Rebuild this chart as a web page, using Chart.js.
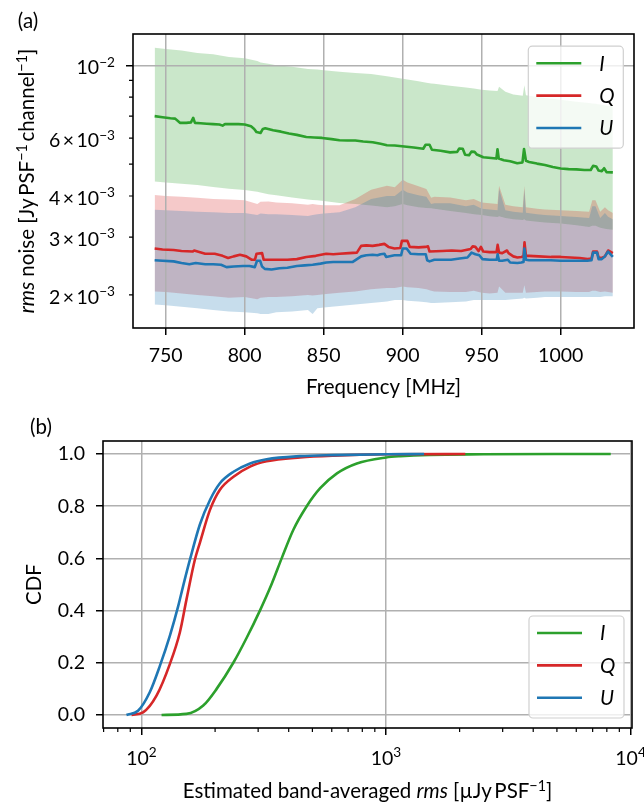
<!DOCTYPE html>
<html lang="en">
<head>
<meta charset="UTF-8">
<title>rms noise per channel and band-averaged CDF</title>
<style>
  body { margin: 0; background: #fff; overflow: hidden; }
  .panel { position: absolute; left: 0; width: 644px; }
  #panelA { top: 0; height: 400px; }
  #panelB { top: 400px; height: 407px; }
</style>
<script src="https://cdn.jsdelivr.net/npm/chart.js@4.4.0/dist/chart.umd.min.js"></script>
</head>
<body>
<div class="panel" id="panelA"><canvas id="noiseChart" width="644" height="400"></canvas></div>
<div class="panel" id="panelB"><canvas id="cdfChart" width="644" height="407"></canvas></div>
<script>
const FONT = 'Lato, "DejaVu Sans", sans-serif';
const FS = 19.5;      // tick labels
const FS_T = 20.5;    // axis titles, legend, panel letters
const GRID = '#b0b0b0';
const GREEN = '#2ca02c', RED = '#d62728', BLUE = '#1f77b4';

// ---- (a) median rms noise per channel [Jy/PSF/channel]
const freqI = [743, 748, 753, 756, 759, 763, 766, 767.4, 768.5, 772, 776, 780, 784, 786, 787.5, 792, 796, 800, 804, 806,
  807.5, 810, 811.5, 813, 818, 823, 828, 833, 839, 844, 849, 855, 860, 865, 870, 875, 881, 886, 890, 895,
  901, 907, 913, 914.5, 917, 918.5, 924, 930, 934.5, 935.8, 938, 939.5, 942, 943.5, 945.5, 947, 951, 956, 959.3, 960,
  960.8, 964, 968, 972.5, 975.8, 976.8, 978, 980, 985, 990, 995, 1000, 1005, 1010, 1015, 1019, 1020.5, 1022.5, 1024, 1026,
  1027.5, 1029, 1033];
const noiseI = [0.00700, 0.00695, 0.00690, 0.00688, 0.00668, 0.00668, 0.00670, 0.00692, 0.00668, 0.00666, 0.00664, 0.00662, 0.00660, 0.00655, 0.00662, 0.00662, 0.00662, 0.00660, 0.00652, 0.00640,
  0.00626, 0.00622, 0.00640, 0.00643, 0.00634, 0.00628, 0.00620, 0.00614, 0.00605, 0.00603, 0.00601, 0.00596, 0.00591, 0.00590, 0.00590, 0.00586, 0.00583, 0.00577, 0.00571, 0.00570,
  0.00566, 0.00562, 0.00557, 0.00573, 0.00573, 0.00553, 0.00549, 0.00543, 0.00545, 0.00558, 0.00557, 0.00534, 0.00532, 0.00546, 0.00545, 0.00535, 0.00525, 0.00522, 0.00520, 0.00555,
  0.00520, 0.00514, 0.00510, 0.00503, 0.00506, 0.00556, 0.00512, 0.00508, 0.00502, 0.00497, 0.00490, 0.00485, 0.00483, 0.00482, 0.00480, 0.00480, 0.00494, 0.00492, 0.00478, 0.00476,
  0.00486, 0.00473, 0.00472];

const freqQ = [743, 748, 755, 760, 767, 768, 775, 781, 786, 789.5, 793, 797, 801, 804.3, 806.5, 807.5, 811, 812, 817, 822,
  827, 833, 839, 845, 851.6, 856, 860, 866, 871, 873.7, 877, 881, 885, 888.4, 891, 894.8, 898.5, 899.5, 903, 904.5,
  910, 914.5, 916, 917, 925, 931, 937, 943, 944.3, 946, 948, 949.5, 951, 955, 959.4, 960.1, 961, 963, 966, 967,
  970, 972.6, 975, 976.5, 977.1, 978, 980, 986, 994, 1000, 1006, 1012, 1017, 1019.5, 1020.5, 1023, 1024, 1026, 1028, 1030,
  1033];
const noiseQ = [0.00277, 0.00275, 0.00274, 0.00272, 0.00271, 0.00273, 0.00267, 0.00267, 0.00263, 0.00259, 0.00262, 0.00265, 0.00262, 0.00256, 0.00256, 0.00267, 0.00268, 0.00256, 0.00256, 0.00256,
  0.00256, 0.00257, 0.00261, 0.00263, 0.00267, 0.00266, 0.00267, 0.00268, 0.00269, 0.00282, 0.00283, 0.00282, 0.00284, 0.00286, 0.00280, 0.00277, 0.00278, 0.00292, 0.00292, 0.00280,
  0.00279, 0.00280, 0.00281, 0.00271, 0.00272, 0.00273, 0.00272, 0.00276, 0.00281, 0.00280, 0.00272, 0.00280, 0.00271, 0.00270, 0.00270, 0.00284, 0.00269, 0.00268, 0.00273, 0.00268,
  0.00262, 0.00260, 0.00261, 0.00262, 0.00289, 0.00263, 0.00263, 0.00262, 0.00261, 0.00261, 0.00260, 0.00259, 0.00257, 0.00258, 0.00271, 0.00271, 0.00260, 0.00259, 0.00262, 0.00273,
  0.00268];

const freqU = [743, 748, 755, 760, 765, 769, 775, 780, 785, 788.5, 793, 799, 803, 806.4, 807.8, 809.8, 811, 812.7, 817, 822,
  827, 833, 838, 843, 848, 851.6, 856, 860, 864, 868.4, 873.7, 877, 881, 884, 886, 888.4, 889.5, 894.8, 899, 900,
  902.5, 905, 910, 914.6, 915.5, 917, 920, 925, 930.6, 936, 941, 943.6, 946, 948.5, 950.5, 955, 959.5, 960.1, 961, 963,
  966.6, 968, 972.6, 975, 976.5, 977, 978, 980, 986, 993.7, 1000, 1006.3, 1012, 1016.8, 1019.5, 1020.5, 1023, 1024, 1026, 1028,
  1030, 1033];
const noiseU = [0.00255, 0.00254, 0.00253, 0.00250, 0.00248, 0.00250, 0.00248, 0.00248, 0.00247, 0.00243, 0.00244, 0.00245, 0.00245, 0.00243, 0.00254, 0.00254, 0.00244, 0.00240, 0.00239, 0.00241,
  0.00242, 0.00245, 0.00246, 0.00247, 0.00249, 0.00251, 0.00252, 0.00252, 0.00252, 0.00252, 0.00262, 0.00264, 0.00265, 0.00264, 0.00266, 0.00267, 0.00261, 0.00264, 0.00264, 0.00277,
  0.00277, 0.00267, 0.00266, 0.00266, 0.00255, 0.00253, 0.00256, 0.00256, 0.00256, 0.00258, 0.00260, 0.00269, 0.00266, 0.00264, 0.00257, 0.00256, 0.00256, 0.00266, 0.00254, 0.00254,
  0.00256, 0.00251, 0.00250, 0.00251, 0.00252, 0.00277, 0.00256, 0.00255, 0.00255, 0.00255, 0.00254, 0.00254, 0.00254, 0.00254, 0.00255, 0.00269, 0.00269, 0.00257, 0.00257, 0.00262,
  0.00271, 0.00261];

// ---- (a) spread around the median (shaded bands)
const bandFreq = [743, 750, 760, 770, 780, 790, 800, 808, 810, 815,
  820, 830, 840, 843, 846, 850, 860, 870, 880, 890,
  895, 900, 903, 910, 915, 918, 920, 930, 940, 945,
  950, 955, 960, 961, 965, 970, 976, 977, 978, 985,
  990, 1000, 1010, 1018, 1020, 1022, 1025, 1028, 1030, 1033];
const bandIhi = [0.0113, 0.0112, 0.0111, 0.0109, 0.0108, 0.0106, 0.0105, 0.0103, 0.0102, 0.0101,
  0.0100, 0.0099, 0.00975, 0.00972, 0.0097, 0.00966, 0.00955, 0.00948, 0.0094, 0.00926,
  0.00918, 0.0091, 0.00905, 0.00894, 0.00885, 0.0088, 0.00878, 0.00867, 0.00855, 0.0085,
  0.00843, 0.00838, 0.00835, 0.0086, 0.0083, 0.00815, 0.00808, 0.0087, 0.0081, 0.008,
  0.00795, 0.00785, 0.00775, 0.00768, 0.00765, 0.00763, 0.0076, 0.00755, 0.00752, 0.0075];
const bandIlo = [0.00443, 0.0044, 0.00436, 0.00432, 0.00426, 0.00421, 0.00417, 0.00412, 0.0041, 0.00405,
  0.00402, 0.00396, 0.0039, 0.00389, 0.00388, 0.00386, 0.00381, 0.00378, 0.00374, 0.0037,
  0.00372, 0.00378, 0.00375, 0.0037, 0.00368, 0.00367, 0.00366, 0.0036, 0.00355, 0.00352,
  0.0035, 0.00347, 0.00345, 0.00347, 0.00343, 0.0034, 0.00338, 0.0034, 0.00337, 0.00334,
  0.00332, 0.0033, 0.00326, 0.00322, 0.00325, 0.00325, 0.0032, 0.00318, 0.00317, 0.00316];
const bandQhi = [0.00403, 0.004, 0.00398, 0.00395, 0.00392, 0.0039, 0.00388, 0.00378, 0.00384, 0.00385,
  0.00382, 0.0038, 0.00376, 0.00378, 0.00376, 0.00375, 0.00375, 0.00392, 0.00418, 0.0043,
  0.00425, 0.00448, 0.0044, 0.00428, 0.0042, 0.00395, 0.00398, 0.00396, 0.00388, 0.00392,
  0.00382, 0.0038, 0.00378, 0.0043, 0.00376, 0.00372, 0.0037, 0.0043, 0.0037, 0.00366,
  0.00364, 0.00362, 0.0036, 0.00358, 0.00388, 0.00388, 0.00358, 0.0037, 0.00362, 0.00355];
const bandQlo = [0.00205, 0.00204, 0.00202, 0.002, 0.00198, 0.00196, 0.00197, 0.00194, 0.00196, 0.00197,
  0.00197, 0.00198, 0.002, 0.00199, 0.002, 0.00201, 0.00203, 0.00205, 0.00208, 0.0021,
  0.0021, 0.00212, 0.00211, 0.0021, 0.00208, 0.00206, 0.00205, 0.00204, 0.00204, 0.00206,
  0.00203, 0.00202, 0.00203, 0.00212, 0.00203, 0.00203, 0.00203, 0.00214, 0.00203, 0.00204,
  0.00205, 0.00205, 0.00204, 0.00204, 0.00206, 0.00206, 0.00204, 0.00205, 0.00204, 0.00203];
const bandUhi = [0.00363, 0.00362, 0.0036, 0.00358, 0.00357, 0.00355, 0.00355, 0.0035, 0.00354, 0.00352,
  0.00352, 0.0035, 0.00348, 0.0035, 0.00352, 0.00354, 0.00357, 0.0037, 0.00392, 0.004,
  0.004, 0.00418, 0.0041, 0.00402, 0.00398, 0.00378, 0.0038, 0.0038, 0.00372, 0.00376,
  0.00366, 0.00364, 0.00362, 0.0042, 0.00362, 0.00358, 0.00356, 0.0042, 0.00356, 0.00352,
  0.0035, 0.00348, 0.00345, 0.00343, 0.00372, 0.00372, 0.00343, 0.00355, 0.00346, 0.0034];
const bandUlo = [0.00187, 0.00186, 0.00184, 0.00182, 0.0018, 0.00178, 0.00177, 0.00176, 0.00175, 0.00175,
  0.00177, 0.00178, 0.0018, 0.00175, 0.00182, 0.00183, 0.00185, 0.00187, 0.00189, 0.00191,
  0.00193, 0.00193, 0.00192, 0.00191, 0.0019, 0.00189, 0.00189, 0.0019, 0.00191, 0.00193,
  0.00193, 0.00193, 0.00193, 0.00193, 0.00193, 0.00194, 0.00195, 0.00196, 0.00195, 0.00196,
  0.00197, 0.00197, 0.00197, 0.00197, 0.00197, 0.00197, 0.00197, 0.00198, 0.00198, 0.00198];

// ---- (b) cumulative distribution of band-averaged rms [uJy/PSF]
const cdfRmsI = [120.8, 152.8, 178.9, 202.6, 237.8, 269, 305, 340, 375, 418, 474, 538, 630, 760, 1000, 1145, 1500, 2500, 5000, 8300];
const cdfI = [0, 0.004, 0.036, 0.099, 0.201, 0.295, 0.40, 0.50, 0.602, 0.71, 0.80, 0.869, 0.926, 0.964, 0.987, 0.992, 0.997, 0.999, 1.0, 1.0];
const cdfRmsQ = [91, 101.5, 115.2, 130.6, 143.5, 152.8, 165.3, 173.3, 190.6, 209.3, 237.8, 278, 325, 445, 610, 1000, 2110];
const cdfQ = [0, 0.01, 0.074, 0.195, 0.316, 0.443, 0.595, 0.66, 0.786, 0.863, 0.913, 0.952, 0.972, 0.987, 0.994, 0.999, 1.0];
const cdfRmsU = [86.8, 96.8, 108.1, 118.9, 130.6, 141.3, 148, 157.8, 173.3, 190.6, 209.3, 237.8, 278, 325, 445, 610, 1000, 1432];
const cdfU = [0, 0.016, 0.087, 0.188, 0.303, 0.417, 0.494, 0.595, 0.73, 0.824, 0.888, 0.932, 0.964, 0.98, 0.992, 0.996, 0.999, 1.0];

// ---- ticks
const freqTicks = [750, 800, 850, 900, 950, 1000];
const noiseMinor = [0.002, 0.003, 0.004, 0.005, 0.006, 0.007, 0.008, 0.009];
const noiseLabelled = [0.002, 0.003, 0.004, 0.006];
const cdfTicks = [0, 0.2, 0.4, 0.6, 0.8, 1.0];
const rmsMajor = [100, 1000, 10000];
const rmsMinor = [70, 80, 90, 200, 300, 400, 500, 600, 700, 800, 900, 2000, 3000, 4000, 5000, 6000, 7000, 8000, 9000];

const pts = (xs, ys) => xs.map((x, i) => ({ x, y: ys[i] }));

function fontFor(style, size) {
  const s = style === 's' ? size * 0.7 : size;
  return (style === 'i' ? 'italic ' : '') + s + 'px ' + FONT;
}

// text made of [string, style] runs: '' plain, 'i' italic, 's' superscript
function drawRich(ctx, parts, x, y, align, size) {
  let w = 0;
  for (const [t, st] of parts) { ctx.font = fontFor(st, size); w += ctx.measureText(t).width; }
  let cx = align === 'center' ? x - w / 2 : align === 'right' ? x - w : x;
  ctx.textAlign = 'left';
  ctx.textBaseline = 'alphabetic';
  for (const [t, st] of parts) {
    ctx.font = fontFor(st, size);
    ctx.fillText(t, cx, st === 's' ? y - 0.38 * size : y);
    cx += ctx.measureText(t).width;
  }
}

function drawLegend(ctx, chart, a, pos) {
  const w = 95, h = 102;
  const x0 = a.right - pos.right - w;
  const y0 = pos.top != null ? a.top + pos.top : a.bottom - pos.bottom - h;
  ctx.beginPath();
  ctx.roundRect(x0, y0, w, h, 4);
  ctx.fillStyle = 'rgba(255,255,255,0.8)';
  ctx.fill();
  ctx.strokeStyle = '#d0d0d0';
  ctx.lineWidth = 1.2;
  ctx.stroke();
  chart.data.datasets.filter(d => d.inLegend).forEach((d, i) => {
    const y = y0 + 17 + i * 32.4;
    ctx.strokeStyle = d.borderColor;
    ctx.lineWidth = 2.6;
    ctx.beginPath();
    ctx.moveTo(x0 + 8, y);
    ctx.lineTo(x0 + 53, y);
    ctx.stroke();
    ctx.fillStyle = '#000';
    drawRich(ctx, [[d.label, 'i']], x0 + 71, y + 0.36 * FS_T, 'left', FS_T);
  });
}

// frame, minor ticks, exponent labels, axis titles, panel letter and legend
function makeDecor(cfg) {
  return {
    id: 'decor',
    afterDraw(chart) {
      const { ctx, chartArea: a, scales } = chart;
      ctx.save();
      ctx.strokeStyle = '#000';
      ctx.fillStyle = '#000';
      ctx.lineWidth = 1.2;
      ctx.beginPath();
      (cfg.minorX || []).forEach(v => {
        const p = scales.x.getPixelForValue(v);
        if (p < a.left || p > a.right) return;
        ctx.moveTo(p, a.bottom); ctx.lineTo(p, a.bottom + 4);
      });
      (cfg.minorY || []).forEach(v => {
        const p = scales.y.getPixelForValue(v);
        if (p < a.top || p > a.bottom) return;
        ctx.moveTo(a.left, p); ctx.lineTo(a.left - 4, p);
      });
      ctx.stroke();

      (cfg.xLabels || []).forEach(([v, parts]) =>
        drawRich(ctx, parts, scales.x.getPixelForValue(v), a.bottom + cfg.xLabelDy, 'center', FS));
      (cfg.yLabels || []).forEach(([v, parts]) =>
        drawRich(ctx, parts, a.left - cfg.yLabelDx, scales.y.getPixelForValue(v) + cfg.yLabelDy, 'right', FS));

      ctx.lineWidth = 1.6;
      ctx.strokeRect(a.left, a.top, a.right - a.left, a.bottom - a.top);

      const cap = 0.36 * FS_T;
      drawRich(ctx, cfg.xTitle, (a.left + a.right) / 2, cfg.xTitleY + cap, 'center', FS_T);
      ctx.save();
      ctx.translate(cfg.yTitleX + cap, (a.top + a.bottom) / 2);
      ctx.rotate(-Math.PI / 2);
      drawRich(ctx, cfg.yTitle, 0, 0, 'center', FS_T);
      ctx.restore();

      drawRich(ctx, [[cfg.panel, '']], cfg.panelX, cfg.panelBase, 'center', FS_T);
      drawLegend(ctx, chart, a, cfg.legend);
      ctx.restore();
    }
  };
}

Chart.defaults.font.family = FONT;
Chart.defaults.font.size = FS;
Chart.defaults.color = '#000';

const gridOpts = { color: GRID, lineWidth: 1.5, tickColor: '#000', tickWidth: 1.5, tickLength: 7 };
const common = {
  responsive: false,
  animation: false,
  events: [],
  elements: { point: { radius: 0 }, line: { borderWidth: 2.6, borderJoinStyle: 'round' } },
};

const bandEdge = (ys, fill, colour, order) => ({
  data: pts(bandFreq, ys), fill, backgroundColor: colour,
  borderColor: 'rgba(0,0,0,0)', borderWidth: 1, order
});
const noiseLine = (label, xs, ys, colour, order) => ({
  label, inLegend: true, data: pts(xs, ys), borderColor: colour, fill: false, order
});

new Chart(document.getElementById('noiseChart'), {
  type: 'line',
  data: {
    datasets: [
      noiseLine('I', freqI, noiseI, GREEN, 2),
      noiseLine('Q', freqQ, noiseQ, RED, 1),
      noiseLine('U', freqU, noiseU, BLUE, 0),
      bandEdge(bandIlo, false, 'transparent', 30),
      bandEdge(bandIhi, '-1', 'rgba(44,160,44,0.25)', 30),
      bandEdge(bandQlo, false, 'transparent', 20),
      bandEdge(bandQhi, '-1', 'rgba(214,39,40,0.25)', 20),
      bandEdge(bandUlo, false, 'transparent', 10),
      bandEdge(bandUhi, '-1', 'rgba(31,119,180,0.25)', 10)
    ]
  },
  options: {
    ...common,
    layout: { padding: { top: 34, right: 10, left: 0, bottom: 0 } },
    plugins: { legend: { display: false }, tooltip: { enabled: false }, filler: { drawTime: 'beforeDraw' } },
    scales: {
      x: {
        type: 'linear', min: 729.3, max: 1046.4,
        afterBuildTicks: s => { s.ticks = freqTicks.map(value => ({ value })); },
        afterFit: s => { s.height = 72; },
        grid: gridOpts, border: { display: false },
        ticks: { padding: 9, maxRotation: 0, autoSkip: false, callback: v => String(v) }
      },
      y: {
        type: 'logarithmic', min: 1.586e-3, max: 1.245e-2,
        afterBuildTicks: s => { s.ticks = [{ value: 0.01 }]; },
        afterFit: s => { s.width = 133; },
        grid: gridOpts, border: { display: false },
        ticks: { callback: () => '' }
      }
    }
  },
  plugins: [makeDecor({
    panel: '(a)', panelX: 28, panelBase: 28,
    minorY: noiseMinor,
    yLabels: [[0.01, [['10', ''], ['\u22122', 's']]]].concat(
      noiseLabelled.map(v => [v, [[String(Math.round(v * 1000)) + '\u2009\u00d7\u200910', ''], ['\u22123', 's']]])),
    yLabelDx: 18, yLabelDy: 8.8,
    xTitle: [['Frequency [MHz]', '']], xTitleY: 386.3,
    yTitle: [['rms', 'i'], [' noise [Jy\u2009PSF', ''], ['\u22121', 's'], ['\u2009channel', ''], ['\u22121', 's'], [']', '']],
    yTitleX: 27,
    legend: { right: 10.7, top: 12.2 }
  })]
});

const cdfLine = (label, xs, ys, colour, order) => ({
  label, inLegend: true, data: pts(xs, ys), borderColor: colour, fill: false,
  cubicInterpolationMode: 'monotone', order
});

new Chart(document.getElementById('cdfChart'), {
  type: 'line',
  data: {
    datasets: [
      cdfLine('I', cdfRmsI, cdfI, GREEN, 2),
      cdfLine('Q', cdfRmsQ, cdfQ, RED, 1),
      cdfLine('U', cdfRmsU, cdfU, BLUE, 0)
    ]
  },
  options: {
    ...common,
    layout: { padding: { top: 41, right: 12, left: 0, bottom: 0 } },
    plugins: { legend: { display: false }, tooltip: { enabled: false } },
    scales: {
      x: {
        type: 'logarithmic', min: 69.6, max: 10140,
        afterBuildTicks: s => { s.ticks = rmsMajor.map(value => ({ value })); },
        afterFit: s => { s.height = 79; },
        grid: gridOpts, border: { display: false },
        ticks: { callback: () => '' }
      },
      y: {
        type: 'linear', min: -0.05, max: 1.05,
        afterBuildTicks: s => { s.ticks = cdfTicks.map(value => ({ value })); },
        afterFit: s => { s.width = 103; },
        grid: gridOpts, border: { display: false },
        ticks: { padding: 11, callback: v => v.toFixed(1) }
      }
    }
  },
  plugins: [makeDecor({
    panel: '(b)', panelX: 41, panelBase: 33.5,
    minorX: rmsMinor,
    xLabels: rmsMajor.map(v => [v, [['10', ''], [String(Math.round(Math.log10(v))), 's']]]),
    xLabelDy: 36.5,
    xTitle: [['Estimated band-averaged ', ''], ['rms', 'i'], [' [\u00b5Jy\u2009PSF', ''], ['\u22121', 's'], [']', '']],
    xTitleY: 391,
    yTitle: [['CDF', '']], yTitleX: 34,
    legend: { right: 8, bottom: 10 }
  })]
});
</script>
</body>
</html>
